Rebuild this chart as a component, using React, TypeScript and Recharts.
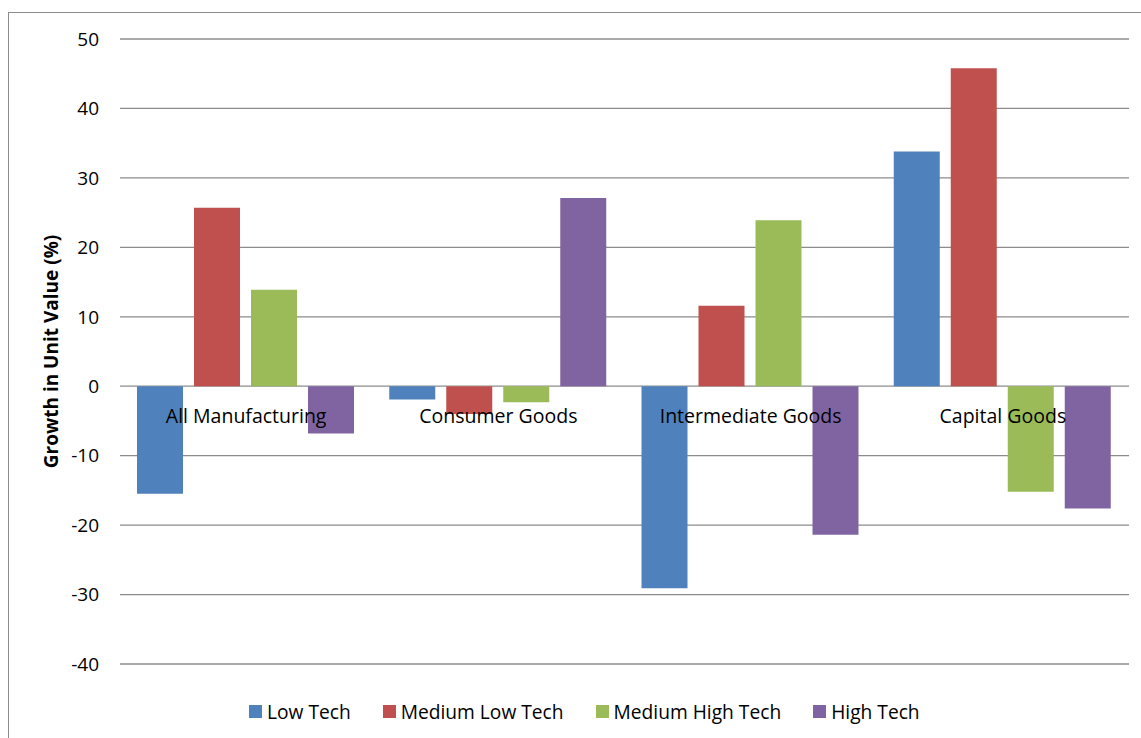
import React from "react";
import { BarChart, Bar, XAxis, YAxis, CartesianGrid, Legend } from "recharts";

const categories = ["All Manufacturing", "Consumer Goods", "Intermediate Goods", "Capital Goods"];
const lowTech = [-15.5, -1.9, -29.1, 33.8];
const mediumLowTech = [25.7, -4.0, 11.6, 45.8];
const mediumHighTech = [13.9, -2.3, 23.9, -15.2];
const highTech = [-6.8, 27.1, -21.4, -17.6];
const yTicks = [-40, -30, -20, -10, 0, 10, 20, 30, 40, 50];

const series = [
  { key: "lowTech", name: "Low Tech", color: "#4F81BD" },
  { key: "mediumLowTech", name: "Medium Low Tech", color: "#C0504D" },
  { key: "mediumHighTech", name: "Medium High Tech", color: "#9BBB59" },
  { key: "highTech", name: "High Tech", color: "#8064A2" },
];

const data = categories.map((name, i) => ({
  name,
  lowTech: lowTech[i],
  mediumLowTech: mediumLowTech[i],
  mediumHighTech: mediumHighTech[i],
  highTech: highTech[i],
}));

const FONT = "'Open Sans', sans-serif";
const WIDTH = 1141;
const HEIGHT = 738;
const X_AXIS_H = 30;
const LEGEND_H = 24;
// plot area runs from y=39 to y=664
const MARGIN = { top: 39, right: 12, bottom: 74 - X_AXIS_H - LEGEND_H, left: 60 };
const Y_MIN = -40;
const Y_MAX = 50;
const PLOT_H = 664 - MARGIN.top;

// category names sit just under the zero line rather than at the bottom of the plot
function CategoryTick(props: any) {
  const { x, payload } = props;
  const zeroY = MARGIN.top + (PLOT_H * Y_MAX) / (Y_MAX - Y_MIN);
  return (
    <text x={x} y={zeroY + 37} textAnchor="middle" fill="#000" fontSize={19.5} fontFamily={FONT}>
      {payload.value}
    </text>
  );
}

function AxisTitle(props: any) {
  const { viewBox } = props;
  const cx = viewBox.x - 9;
  const cy = viewBox.y + viewBox.height / 2;
  return (
    <text
      x={cx}
      y={cy}
      transform={`rotate(-90, ${cx}, ${cy})`}
      textAnchor="middle"
      dominantBaseline="central"
      fontSize={19}
      fontWeight="bold"
      fontFamily={FONT}
      fill="#000"
    >
      Growth in Unit Value (%)
    </text>
  );
}

function LegendContent() {
  return (
    <div
      style={{
        display: "flex",
        alignItems: "center",
        height: LEGEND_H,
        paddingLeft: 249,
        fontFamily: FONT,
        fontSize: 19.2,
        color: "#000",
      }}
    >
      {series.map((s) => (
        <div key={s.key} style={{ display: "flex", alignItems: "center", marginRight: 32 }}>
          <span style={{ width: 13, height: 13, background: s.color, marginRight: 5 }} />
          <span>{s.name}</span>
        </div>
      ))}
    </div>
  );
}

export default function App() {
  return (
    <div style={{ position: "fixed", left: 0, top: 0, width: WIDTH, height: HEIGHT, overflow: "hidden", background: "#fff" }}>
      <div
        style={{
          position: "absolute",
          left: 8,
          top: 12,
          width: 1200,
          height: 800,
          border: "1px solid #8c8c8c",
        }}
      />
      <div style={{ position: "absolute", left: 0, top: 0 }}>
        <BarChart
          width={WIDTH}
          height={HEIGHT}
          data={data}
          margin={MARGIN}
          barCategoryGap={17}
          barGap={11}
        >
          <CartesianGrid vertical={false} stroke="#8c8c8c" strokeWidth={1.3} />
          <YAxis
            width={60}
            domain={[Y_MIN, Y_MAX]}
            ticks={yTicks}
            interval={0}
            axisLine={false}
            tickLine={false}
            tickMargin={15}
            tick={{ fill: "#000", fontSize: 19, fontFamily: FONT }}
            label={<AxisTitle />}
          />
          {series.map((s) => (
            <Bar key={s.key} dataKey={s.key} name={s.name} fill={s.color} isAnimationActive={false} />
          ))}
          <XAxis
            dataKey="name"
            height={X_AXIS_H}
            axisLine={false}
            tickLine={false}
            tick={<CategoryTick />}
            interval={0}
          />
          <Legend
            verticalAlign="bottom"
            content={<LegendContent />}
            wrapperStyle={{ bottom: 15, left: 0, width: WIDTH }}
          />
        </BarChart>
      </div>
    </div>
  );
}
